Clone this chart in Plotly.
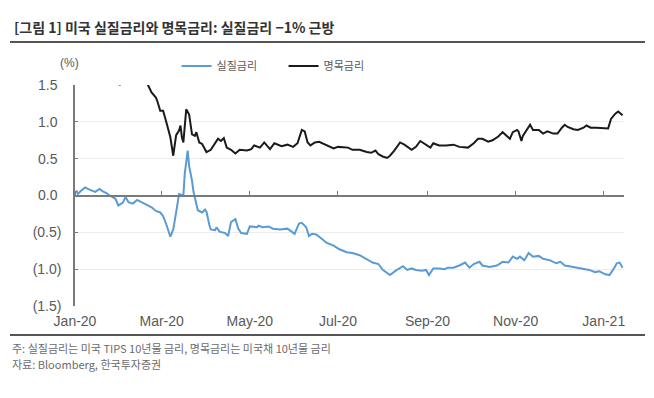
import plotly.graph_objects as go

# 실질금리 (US 10Y TIPS yield, %)
real_dates = [
    "2020-01-02", "2020-01-03", "2020-01-05", "2020-01-08", "2020-01-11", "2020-01-15", "2020-01-18",
    "2020-01-20", "2020-01-23", "2020-01-25", "2020-01-29", "2020-01-31", "2020-02-03", "2020-02-05",
    "2020-02-07", "2020-02-10", "2020-02-13", "2020-02-16", "2020-02-19", "2020-02-23", "2020-02-26",
    "2020-02-29", "2020-03-02", "2020-03-04", "2020-03-07", "2020-03-09", "2020-03-11", "2020-03-13",
    "2020-03-16", "2020-03-17", "2020-03-19", "2020-03-20", "2020-03-22", "2020-03-23", "2020-03-26",
    "2020-03-29", "2020-03-31", "2020-04-01", "2020-04-03", "2020-04-04", "2020-04-07", "2020-04-08",
    "2020-04-10", "2020-04-14", "2020-04-16", "2020-04-18", "2020-04-21", "2020-04-23", "2020-04-25",
    "2020-04-29", "2020-05-01", "2020-05-06", "2020-05-07", "2020-05-10", "2020-05-14", "2020-05-17",
    "2020-05-22", "2020-05-27", "2020-05-30", "2020-06-01", "2020-06-04", "2020-06-06", "2020-06-09",
    "2020-06-11", "2020-06-13", "2020-06-16", "2020-06-20", "2020-06-23", "2020-06-28", "2020-07-02",
    "2020-07-07", "2020-07-11", "2020-07-16", "2020-07-21", "2020-07-25", "2020-07-29", "2020-08-01",
    "2020-08-06", "2020-08-10", "2020-08-15", "2020-08-18", "2020-08-21", "2020-08-24", "2020-08-28",
    "2020-08-31", "2020-09-02", "2020-09-05", "2020-09-09", "2020-09-13", "2020-09-15", "2020-09-19",
    "2020-09-23", "2020-09-27", "2020-09-30", "2020-10-03", "2020-10-07", "2020-10-09", "2020-10-14",
    "2020-10-19", "2020-10-23", "2020-10-27", "2020-10-30", "2020-11-02", "2020-11-04", "2020-11-07",
    "2020-11-10", "2020-11-13", "2020-11-17", "2020-11-20", "2020-11-25", "2020-11-29", "2020-12-02",
    "2020-12-05", "2020-12-08", "2020-12-13", "2020-12-18", "2020-12-22", "2020-12-26", "2020-12-29",
    "2021-01-02", "2021-01-05", "2021-01-08", "2021-01-10", "2021-01-12", "2021-01-14",
]
real_values = [
    0.07, 0.02, 0.06, 0.11, 0.08, 0.05, 0.09,
    0.06, 0.03, 0.00, -0.045, -0.135, -0.10, -0.02,
    -0.09, -0.11, -0.06, -0.09, -0.11, -0.16, -0.21,
    -0.23, -0.28, -0.38, -0.56, -0.46, -0.23, 0.02,
    0.00, 0.30, 0.61, 0.40, 0.20, 0.05, -0.20,
    -0.23, -0.19, -0.22, -0.40, -0.46, -0.47, -0.43,
    -0.49, -0.51, -0.55, -0.36, -0.32, -0.45, -0.51,
    -0.52, -0.42, -0.43, -0.41, -0.43, -0.42, -0.45,
    -0.46, -0.45, -0.49, -0.52, -0.38, -0.37, -0.43,
    -0.55, -0.52, -0.53, -0.59, -0.64, -0.68, -0.73,
    -0.77, -0.78, -0.81, -0.87, -0.91, -0.93, -1.01,
    -1.08, -1.02, -0.96, -1.01, -0.99, -1.01, -1.02,
    -1.01, -1.08, -0.99, -0.99, -1.00, -0.98, -0.98,
    -0.95, -0.91, -0.98, -0.93, -0.90, -0.95, -0.97,
    -0.95, -0.90, -0.91, -0.83, -0.86, -0.83, -0.88,
    -0.78, -0.83, -0.82, -0.86, -0.88, -0.92, -0.90,
    -0.95, -0.96, -0.98, -1.00, -1.01, -1.04, -1.03,
    -1.07, -1.08, -0.99, -0.92, -0.91, -0.98,
]

# 명목금리 (US 10Y Treasury yield, %)
nominal_dates = [
    "2020-01-02", "2020-01-08", "2020-01-13", "2020-01-17", "2020-01-22", "2020-01-27", "2020-01-30",
    "2020-02-01", "2020-02-05", "2020-02-10", "2020-02-14", "2020-02-19", "2020-02-20", "2020-02-23",
    "2020-02-26", "2020-02-27", "2020-02-29", "2020-03-02", "2020-03-04", "2020-03-07", "2020-03-09",
    "2020-03-11", "2020-03-13", "2020-03-14", "2020-03-15", "2020-03-16", "2020-03-18", "2020-03-20",
    "2020-03-22", "2020-03-24", "2020-03-25", "2020-03-27", "2020-03-29", "2020-04-01", "2020-04-04",
    "2020-04-07", "2020-04-09", "2020-04-11", "2020-04-13", "2020-04-15", "2020-04-18", "2020-04-21",
    "2020-04-24", "2020-04-29", "2020-05-02", "2020-05-04", "2020-05-08", "2020-05-11", "2020-05-15",
    "2020-05-18", "2020-05-23", "2020-05-27", "2020-05-31", "2020-06-03", "2020-06-06", "2020-06-08",
    "2020-06-10", "2020-06-12", "2020-06-15", "2020-06-18", "2020-06-23", "2020-06-28", "2020-07-01",
    "2020-07-05", "2020-07-08", "2020-07-11", "2020-07-16", "2020-07-21", "2020-07-24", "2020-07-27",
    "2020-07-29", "2020-08-01", "2020-08-04", "2020-08-06", "2020-08-09", "2020-08-13", "2020-08-16",
    "2020-08-21", "2020-08-24", "2020-08-27", "2020-08-30", "2020-09-03", "2020-09-05", "2020-09-09",
    "2020-09-14", "2020-09-19", "2020-09-23", "2020-09-29", "2020-10-03", "2020-10-06", "2020-10-09",
    "2020-10-13", "2020-10-16", "2020-10-20", "2020-10-23", "2020-10-26", "2020-10-28", "2020-10-30",
    "2020-11-02", "2020-11-03", "2020-11-05", "2020-11-06", "2020-11-09", "2020-11-11", "2020-11-13",
    "2020-11-17", "2020-11-20", "2020-11-23", "2020-11-27", "2020-11-30", "2020-12-03", "2020-12-05",
    "2020-12-07", "2020-12-11", "2020-12-14", "2020-12-18", "2020-12-20", "2020-12-23", "2020-12-27",
    "2020-12-30", "2021-01-04", "2021-01-06", "2021-01-09", "2021-01-11", "2021-01-13", "2021-01-14",
]
nominal_values = [
    1.88, 1.87, 1.85, 1.84, 1.77, 1.61, 1.58,
    1.50, 1.65, 1.56, 1.59, 1.56, 1.52, 1.40,
    1.33, 1.28, 1.15, 1.15, 1.01, 0.79, 0.54,
    0.82, 0.88, 0.95, 0.79, 0.72, 1.17, 1.10,
    0.83, 0.81, 0.86, 0.72, 0.70, 0.59, 0.62,
    0.70, 0.77, 0.74, 0.78, 0.65, 0.62, 0.57,
    0.62, 0.61, 0.63, 0.68, 0.65, 0.72, 0.63,
    0.71, 0.67, 0.69, 0.66, 0.71, 0.89, 0.87,
    0.72, 0.68, 0.72, 0.73, 0.69, 0.64, 0.66,
    0.66, 0.65, 0.62, 0.62, 0.59, 0.58, 0.61,
    0.56, 0.53, 0.51, 0.54, 0.61, 0.72, 0.69,
    0.62, 0.66, 0.74, 0.70, 0.65, 0.71, 0.68,
    0.68, 0.69, 0.66, 0.65, 0.71, 0.77, 0.77,
    0.73, 0.75, 0.80, 0.86, 0.81, 0.77, 0.86,
    0.89, 0.87, 0.74, 0.81, 0.89, 0.96, 0.89,
    0.89, 0.84, 0.87, 0.84, 0.84, 0.92, 0.96,
    0.93, 0.90, 0.89, 0.92, 0.95, 0.92, 0.92,
    0.92, 0.91, 1.04, 1.11, 1.14, 1.11, 1.09,
]

y_tickvals = [1.5, 1.0, 0.5, 0.0, -0.5, -1.0, -1.5]
y_ticktext = ["1.5\u2008", "1.0\u2008", "0.5\u2008", "0.0\u2008", "(0.5)", "(1.0)", "(1.5)"]
x_range = ["2020-01-01", "2021-01-15"]

title_text = "[그림 1] 미국 실질금리와 명목금리: 실질금리 −1% 근방"
unit_text = "(%)"
note_text = "주: 실질금리는 미국 TIPS 10년물 금리, 명목금리는 미국채 10년물 금리"
source_text = "자료: Bloomberg, 한국투자증권"

FONT = "Liberation Sans, Arial, Noto Sans CJK KR, sans-serif"
KFONT = "Noto Sans CJK KR, sans-serif"
AXIS_GRAY = "#7a7a7a"
TEXT_GRAY = "#595959"

fig = go.Figure()
fig.add_trace(go.Scatter(x=real_dates, y=real_values, mode="lines", name="실질금리",
                         line=dict(color="#5b9bd5", width=2)))
fig.add_trace(go.Scatter(x=nominal_dates, y=nominal_values, mode="lines", name="명목금리",
                         line=dict(color="#1a1a1a", width=2)))
# invisible carrier trace so the zero-line axis (x2) is drawn
fig.add_trace(go.Scatter(x=x_range, y=[0, 0], xaxis="x2", mode="lines", opacity=0,
                         line=dict(width=0), showlegend=False, hoverinfo="skip"))

# page body has an 8px default margin, so the figure is 8px smaller than the window
fig.update_layout(
    width=646, height=390,
    margin=dict(l=67, r=30, t=77, b=92, autoexpand=False),
    paper_bgcolor="white", plot_bgcolor="white",
    font=dict(family=FONT, color=TEXT_GRAY, size=12),
    showlegend=True,
    legend=dict(orientation="h", x=0.185, y=1.086, xanchor="left", yanchor="middle",
                font=dict(family=KFONT, size=11, color=TEXT_GRAY),
                bgcolor="rgba(0,0,0,0)", itemwidth=30, entrywidth=62, entrywidthmode="pixels"),
    xaxis=dict(type="date", range=x_range, dtick="M2", tick0="2020-01-01",
               tickformat="%b-%y", showgrid=False, showline=False, ticks="",
               zeroline=False, ticklabelstandoff=5,
               tickfont=dict(size=14, color=TEXT_GRAY)),
    xaxis2=dict(type="date", range=x_range, dtick="M2", tick0="2020-01-01",
                overlaying="x", anchor="free", position=0.5, side="top",
                showline=True, linecolor=AXIS_GRAY, linewidth=1.5,
                ticks="outside", ticklen=4, tickcolor=AXIS_GRAY, tickwidth=1,
                showticklabels=False, showgrid=False, zeroline=False),
    yaxis=dict(range=[-1.5, 1.5], tickvals=y_tickvals, ticktext=y_ticktext,
               showgrid=True, gridcolor="#ececec", gridwidth=1, zeroline=False,
               showline=True, linecolor=AXIS_GRAY, linewidth=1.5,
               ticks="inside", ticklen=3, tickcolor=AXIS_GRAY,
               ticklabelstandoff=9,
               tickfont=dict(size=14, color=TEXT_GRAY)),
)

# separators
fig.add_shape(type="line", xref="paper", yref="paper", x0=-0.1184, x1=1.0383,
              y0=1.1946, y1=1.1946, line=dict(color="#555555", width=2))
fig.add_shape(type="line", xref="paper", yref="paper", x0=-0.1184, x1=1.0383,
              y0=-0.1312, y1=-0.1312, line=dict(color="#555555", width=2))

fig.add_annotation(text="<b>" + title_text + "</b>", xref="paper", yref="paper", x=-0.1148, y=1.2624,
                   xanchor="left", yanchor="middle", showarrow=False,
                   font=dict(family=KFONT, size=14, color="#333333"))
fig.add_annotation(text=unit_text, xref="paper", yref="paper", x=-0.0109, y=1.0995,
                   xanchor="center", yanchor="middle", showarrow=False,
                   font=dict(family=FONT, size=12, color=TEXT_GRAY))
fig.add_annotation(text=note_text, xref="paper", yref="paper", x=-0.1184, y=-0.1878,
                   xanchor="left", yanchor="middle", showarrow=False,
                   font=dict(family=KFONT, size=11, color="#6b6b6b"))
fig.add_annotation(text=source_text, xref="paper", yref="paper", x=-0.1184, y=-0.2647,
                   xanchor="left", yanchor="middle", showarrow=False,
                   font=dict(family=KFONT, size=11, color="#6b6b6b"))

fig.write_html("out.html")
